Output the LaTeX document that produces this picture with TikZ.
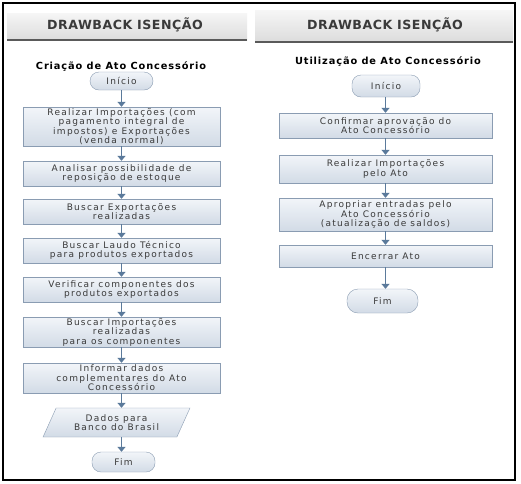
\documentclass[tikz,border=0pt]{standalone}
\usepackage{fontspec}
\usetikzlibrary{arrows.meta,shapes.geometric}
\newfontfamily\flowfont[LetterSpace=14]{DejaVu Sans}
\newfontfamily\headfont[LetterSpace=4]{DejaVu Sans}
\newfontfamily\titlefont[LetterSpace=9]{DejaVu Sans}

\definecolor{txt}{HTML}{3A3A3A}
\definecolor{boxline}{HTML}{8A9CB2}
\definecolor{boxtop}{HTML}{F2F5F9}
\definecolor{boxbot}{HTML}{D2DBE6}
\definecolor{arrowcol}{HTML}{5B7A9B}
\definecolor{headtop}{HTML}{F6F6F6}
\definecolor{headbot}{HTML}{DCDCDC}
\definecolor{headline}{HTML}{5A5A5A}

\tikzset{
	stepbox/.style={draw=boxline, top color=boxtop, bottom color=boxbot,
		minimum width=197pt, minimum height=25pt, align=center, inner sep=1pt,
		text=txt, font=\flowfont\fontsize{9}{9.5}\selectfont},
	wide/.style={minimum width=213pt},
	term/.style={stepbox, rounded corners=9pt, minimum width=63pt, minimum height=19pt},
	databox/.style={stepbox, trapezium, trapezium left angle=63, trapezium right angle=117,
		trapezium stretches=true, rounded corners=0pt, minimum width=147pt, minimum height=29pt},
	headtext/.style={text=txt, font=\headfont\bfseries\fontsize{12.6}{14}\selectfont},
	title/.style={text=black, font=\titlefont\bfseries\fontsize{9.8}{11}\selectfont},
	flow/.style={draw=arrowcol, line width=1.8pt, -{Triangle[width=8pt,length=5pt]}}
}

\begin{document}
\begin{tikzpicture}[x=1pt, y=-1pt]
	\useasboundingbox (0,0) rectangle (521,483);
	\fill[white] (0,0) rectangle (521,483);
	\draw[line width=1.3pt] (3,3) rectangle (515,480);

	% headers
	\fill[top color=headtop, bottom color=headbot] (7,13) rectangle (247,40);
	\draw[headline, line width=1.6pt] (7,40) -- (247,40);
	\fill[top color=headtop, bottom color=headbot] (255,10) rectangle (513,42);
	\draw[headline, line width=1.6pt] (255,42) -- (513,42);
	\node[headtext] (headL) at (125,25) {DRAWBACK ISENÇÃO};
	\node[headtext] (headR) at (385,25) {DRAWBACK ISENÇÃO};

	% left column
	\node[title] (titleL) at (121,67) {Criação de Ato Concessório};
	\node[term, minimum height=18pt] (iniL) at (121.5,81) {Início};
	\node[stepbox, minimum height=39pt] (l1) at (121.5,126.5) {Realizar Importações (com\\pagamento integral de\\impostos) e Exportações\\(venda normal)};
	\node[stepbox] (l2) at (121.5,173.5) {Analisar possibilidade de\\reposição de estoque};
	\node[stepbox] (l3) at (121.5,211.5) {Buscar Exportações\\realizadas};
	\node[stepbox] (l4) at (121.5,250.5) {Buscar Laudo Técnico\\para produtos exportados};
	\node[stepbox] (l5) at (121.5,289.5) {Verificar componentes dos\\produtos exportados};
	\node[stepbox, minimum height=30pt] (l6) at (121.5,332) {Buscar Importações\\realizadas\\para os componentes};
	\node[stepbox, minimum height=30pt] (l7) at (121.5,378) {Informar dados\\complementares do Ato\\Concessório};
	\node[databox] (bb) at (116.5,422.5) {Dados para\\Banco do Brasil};
	\node[term, minimum height=20pt] (fimL) at (123.5,462) {Fim};

	\draw[flow] (iniL) -- (l1);
	\draw[flow] (l1) -- (l2);
	\draw[flow] (l2) -- (l3);
	\draw[flow] (l3) -- (l4);
	\draw[flow] (l4) -- (l5);
	\draw[flow] (l5) -- (l6);
	\draw[flow] (l6) -- (l7);
	\draw[flow] (l7.south) -- (l7.south |- bb.north);
	\draw[flow] (l7.south |- bb.south) -- (l7.south |- fimL.north);

	% right column
	\node[title] (titleR) at (388,62) {Utilização de Ato Concessório};
	\node[term, minimum width=68pt, minimum height=22pt] (iniR) at (386,86) {Início};
	\node[stepbox, wide] (r1) at (385.5,125.5) {Confirmar aprovação do\\Ato Concessório};
	\node[stepbox, wide, minimum height=28pt] (r2) at (385.5,169) {Realizar Importações\\pelo Ato};
	\node[stepbox, wide, minimum height=33pt] (r3) at (385.5,214.5) {Apropriar entradas pelo\\Ato Concessório\\(atualização de saldos)};
	\node[stepbox, wide, minimum height=22pt] (r4) at (385.5,256) {Encerrar Ato};
	\node[term, minimum width=71pt, minimum height=24pt, rounded corners=11pt] (fimR) at (382.5,301) {Fim};

	\draw[flow] (iniR.south -| r1.north) -- (r1.north);
	\draw[flow] (r1) -- (r2);
	\draw[flow] (r2) -- (r3);
	\draw[flow] (r3) -- (r4);
	\draw[flow] (r4.south) -- (r4.south |- fimR.north);
\end{tikzpicture}
\end{document}
